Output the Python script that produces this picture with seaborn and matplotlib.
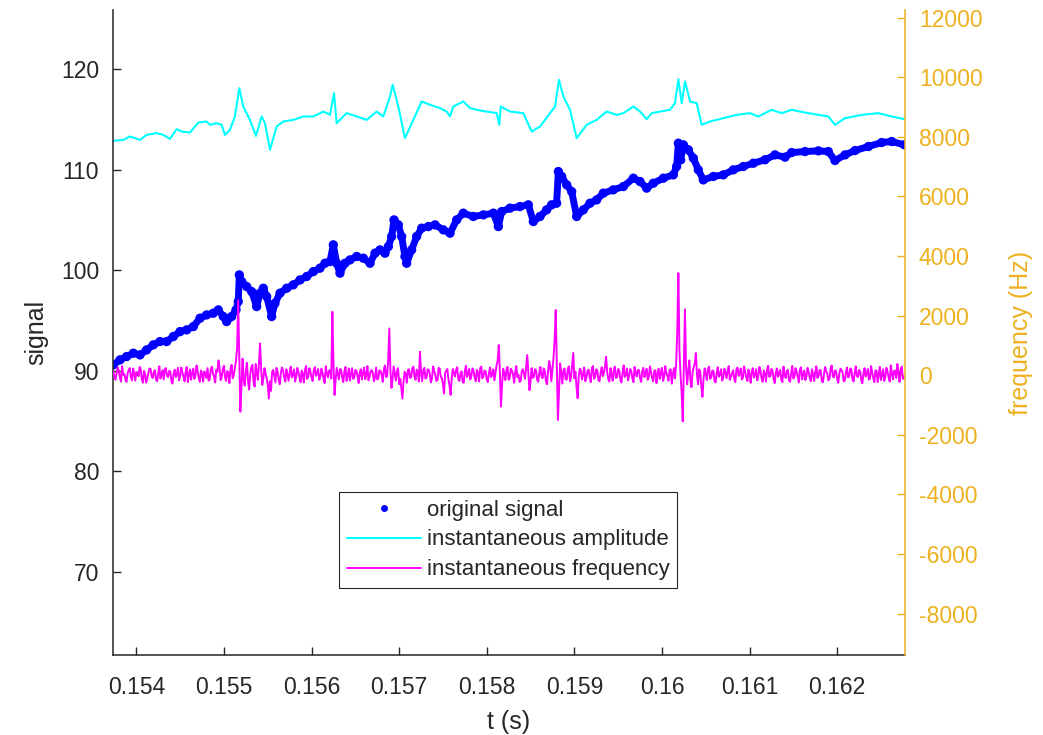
import numpy as np
import pandas as pd
import matplotlib
matplotlib.use("Agg")
import matplotlib.pyplot as plt
import seaborn as sns
from matplotlib.lines import Line2D

# ---------------- data (time in ms) ----------------
sig_t_ms = [153.737, 153.813, 153.889, 153.965, 154.041, 154.117, 154.193, 154.269, 154.345, 154.422,
            154.498, 154.574, 154.650, 154.726, 154.802, 154.878, 154.935, 154.992, 155.030, 155.087,
            155.137, 155.163, 155.175, 155.202, 155.259, 155.316, 155.373, 155.411, 155.449, 155.487,
            155.544, 155.582, 155.639, 155.715, 155.791, 155.868, 155.944, 156.020, 156.096, 156.153,
            156.210, 156.248, 156.286, 156.324, 156.381, 156.438, 156.515, 156.591, 156.667, 156.724,
            156.781, 156.838, 156.876, 156.914, 156.941, 156.990, 157.028, 157.066, 157.085, 157.142,
            157.199, 157.257, 157.333, 157.409, 157.504, 157.580, 157.656, 157.732, 157.846, 157.961,
            158.075, 158.132, 158.170, 158.265, 158.379, 158.474, 158.531, 158.607, 158.683, 158.740,
            158.797, 158.817, 158.855, 158.912, 158.969, 159.026, 159.102, 159.178, 159.254, 159.330,
            159.444, 159.559, 159.673, 159.749, 159.825, 159.901, 160.015, 160.129, 160.167, 160.187,
            160.213, 160.244, 160.301, 160.358, 160.415, 160.472, 160.586, 160.700, 160.814, 160.928,
            161.043, 161.176, 161.290, 161.404, 161.480, 161.633, 161.785, 161.899, 161.975, 162.090,
            162.204, 162.356, 162.508, 162.622, 162.767]
sig_val = [90.60, 91.10, 91.43, 91.76, 91.59, 92.09, 92.59, 92.92, 92.92, 93.42,
           93.91, 94.08, 94.41, 95.24, 95.57, 95.74, 96.07, 95.41, 94.91, 95.41,
           96.07, 96.90, 99.55, 98.89, 98.39, 97.89, 96.40, 97.73, 98.22, 97.40,
           95.41, 96.73, 97.73, 98.22, 98.56, 99.05, 99.39, 99.88, 100.22, 100.71,
           100.88, 102.54, 100.71, 99.72, 100.71, 101.04, 101.38, 101.21, 100.71, 101.71,
           102.04, 101.71, 102.37, 103.37, 105.02, 104.53, 103.37, 101.38, 100.71, 102.04,
           103.37, 104.20, 104.36, 104.53, 104.03, 103.70, 105.02, 105.69, 105.36, 105.52,
           105.69, 104.36, 105.85, 106.19, 106.35, 106.52, 104.86, 105.36, 106.02, 106.52,
           106.68, 109.83, 109.34, 108.51, 107.84, 105.36, 106.02, 106.68, 107.01, 107.68,
           108.01, 108.34, 109.17, 108.84, 108.18, 108.67, 109.17, 109.50, 110.33, 112.65,
           110.99, 112.49, 111.99, 111.16, 110.00, 109.00, 109.34, 109.50, 110.00, 110.33,
           110.66, 111.00, 111.49, 111.26, 111.72, 111.82, 111.89, 111.82, 110.93, 111.49,
           111.92, 112.32, 112.72, 112.82, 112.49]

amp_t_ms = [153.737, 153.851, 153.927, 154.041, 154.117, 154.231, 154.307, 154.384, 154.460, 154.517,
            154.612, 154.707, 154.802, 154.840, 154.916, 154.973, 155.011, 155.068, 155.125, 155.175,
            155.220, 155.296, 155.365, 155.430, 155.468, 155.525, 155.601, 155.677, 155.791, 155.906,
            156.020, 156.134, 156.210, 156.256, 156.286, 156.400, 156.515, 156.629, 156.743, 156.819,
            156.895, 156.926, 156.990, 157.066, 157.161, 157.257, 157.352, 157.466, 157.542, 157.580,
            157.618, 157.732, 157.808, 157.923, 158.113, 158.143, 158.159, 158.265, 158.417, 158.512,
            158.607, 158.722, 158.779, 158.824, 158.874, 158.950, 159.026, 159.140, 159.254, 159.368,
            159.482, 159.559, 159.673, 159.749, 159.825, 159.882, 159.977, 160.091, 160.148, 160.187,
            160.225, 160.263, 160.320, 160.396, 160.453, 160.548, 160.700, 160.852, 161.005, 161.100,
            161.252, 161.366, 161.480, 161.633, 161.785, 161.899, 161.975, 162.090, 162.280, 162.470,
            162.622, 162.767]
amp_val = [112.89, 112.98, 113.32, 112.98, 113.48, 113.65, 113.48, 113.08, 114.05, 113.81,
           113.71, 114.71, 114.81, 114.48, 114.64, 114.48, 113.48, 113.98, 115.31, 118.13,
           116.30, 114.97, 113.38, 115.31, 114.64, 111.99, 114.31, 114.81, 114.97, 115.31,
           115.31, 115.80, 115.47, 117.63, 114.64, 115.64, 115.31, 114.97, 115.80, 115.31,
           117.30, 118.46, 116.30, 113.15, 114.97, 116.80, 116.47, 116.14, 115.80, 115.31,
           116.30, 116.80, 116.14, 115.90, 115.64, 114.48, 116.30, 115.80, 115.64, 113.81,
           114.31, 115.64, 116.30, 118.95, 117.30, 115.97, 113.15, 114.48, 114.97, 115.80,
           115.47, 115.64, 116.30, 115.80, 115.04, 115.64, 115.80, 115.97, 116.63, 119.02,
           116.63, 118.79, 116.80, 116.63, 114.48, 114.81, 115.14, 115.47, 115.64, 115.31,
           115.97, 115.64, 115.97, 115.70, 115.47, 115.31, 114.48, 115.14, 115.47, 115.64,
           115.31, 115.04]

freq_t0_ms = 153.737
freq_dt_ms = 0.0125
freq_hz = [
    120, -40, -150, 90, 260, 150, -80, -210, 310, 20, 40, -130, -220, 70, 180, 240, -60, -170, 230, 60,
    -180, 110, 90, -30, 280, 190, -120, -250, 150, 40, -250, -90, 60, 230, 210, -50, -90, 120, 170, -140,
    -200, 80, 300, -110, 20, 170, -140, 210, 240, -20, -60, 150, 130, -190, -280, 60, 190, -60, 50, 250,
    -170, -30, 260, 100, -40, -200, 110, 280, -230, 30, 200, -150, 80, 220, -120, 10, 330, 140, -90, -220,
    160, 40, -210, 130, 70, -90, 240, -180, -130, 210, 290, 60, -50, -240, 180, 110, 500, 250, -160, -60,
    220, 320, -70, -190, 140, 80, -260, 200, 350, -100, 10, 260, 480, 900, 2520, 600, -1220, -400, 560, -150,
    -350, 150, 420, -200, -480, 40, 260, 350, -200, -380, 380, 100, -150, 400, 1070, 200, -320, -100, 240, 60,
    -100, -300, -780, -200, -520, 120, 180, -30, -240, 250, 120, -160, -300, 80, 260, 160, -60, -210, 200, 30,
    -180, 90, 290, -70, 30, 200, -210, -40, 250, 130, -90, -230, 160, 40, -240, 180, 310, -120, -40, 240,
    120, -80, -190, 170, 270, -20, 60, 210, -150, -60, 220, 90, -110, -260, 300, 70, -70, 150, 180, -110,
    2130, 400, -660, -150, 250, 60, -140, 210, 190, -80, -230, 130, 280, -190, 0, 230, -170, 50, 240, -120,
    -80, 180, 150, -30, -260, 90, 200, -140, 90, 260, -130, 20, 310, -170, -50, 140, 170, 60, -200, -60,
    260, -140, -100, 170, 140, 30, -220, 200, 330, -60, -30, 500, 1570, 200, -420, -100, 300, 60, -180, 150,
    240, -300, -120, -450, -780, -200, 120, 50, -250, 180, 200, -90, -60, 230, 290, -40, -150, 190, 110, -210,
    790, 100, -200, 160, 250, -110, -70, 200, 180, 40, -240, -100, 300, 130, 30, -190, -160, 250, 220, -50,
    -90, -300, -610, 80, 150, 210, -130, -350, -660, -100, 210, 70, -40, 190, 270, -120, -190, 60, 130, -230,
    -250, 140, 320, -60, 60, 210, -140, -20, 230, 150, -80, -200, 180, 90, -210, 240, 290, -100, -30, 160,
    120, -140, -230, 70, 260, -60, 40, 200, -170, 100, 350, 500, 1015, 100, -1050, -300, 220, 60, -160, 190,
    280, -150, -90, 220, 150, 30, -250, 110, 310, -70, 20, -220, -180, 140, 200, 60, -120, 300, 680, 100,
    -500, -200, 240, -80, -60, 200, 170, -150, -220, 90, 280, -30, -100, 230, 140, -190, -300, 150, 480, 300,
    -200, 200, 600, 1200, 2190, 300, -1500, -500, 400, 100, -280, 150, 230, -120, -150, 220, 300, -200, -60, 350,
    750, -100, 120, -400, -770, -50, 220, 160, -140, 30, 260, -200, -90, 140, 190, -60, -230, 240, 310, -120,
    -50, 200, 160, -170, -200, 90, 270, -30, 80, 300, 620, 100, -130, -210, 240, 50, -180, 160, 290, -90,
    -60, 210, 150, -150, -240, 80, 330, -60, 20, 230, -170, -20, 210, 140, -110, -230, 280, 60, -40, 180,
    170, -90, -220, 130, 250, -60, 60, 220, -150, -40, 300, 100, -80, -200, 140, 170, -260, 30, 220, -120,
    90, 250, -190, -50, 310, 80, -30, -180, 180, 200, -280, 40, 240, -100, 420, 1500, 3430, 800, 0, -600,
    -1550, 400, 2210, 300, -300, 150, 500, -200, -400, 100, 280, 400, 750, 0, -300, 200, 120, -400, -720, -100,
    230, 80, -160, 200, 290, -120, -70, 160, 150, -190, -240, 90, 270, -50, 30, 200, -180, -70, 220, 120,
    -100, 150, 310, -160, -40, 60, 170, -120, -230, 200, 260, -20, 80, 230, -140, -70, 300, 110, -60, -190,
    190, 40, -250, 130, 240, -80, 10, 200, -170, -40, 280, 150, -110, -220, 160, 60, -210, 180, 320, -50,
    -30, 210, 140, -120, -260, 90, 230, -50, 70, 180, -150, -230, 290, 30, -90, 150, 180, -160, -220, 70,
    310, -110, -50, 240, 120, -60, -240, 200, 270, -140, 40, 160, -160, -30, 250, 110, -80, -200, 200, 50,
    -190, 120, 300, -90, -20, 180, 160, -200, -230, 40, 280, 130, 60, -170, -120, 220, 330, -30, -70, 160,
    150, -120, -250, 60, 220, 180, 90, -200, -180, 100, 260, -70, -40, 230, 190, -140, -210, 80, 300, -30,
    -60, 180, 130, -150, -270, 60, 240, -40, 50, 210, -150, -100, 310, 90, -100, -230, 170, 140, -230, 30,
    280, -160, 20, 200, -190, -40, 250, 120, -70, -210, 330, 60, -140, 150, 160, -90, 380, 100, -220, 200,
    290, -120, -60]

x_ticks = [0.154, 0.155, 0.156, 0.157, 0.158, 0.159, 0.160, 0.161, 0.162]
x_tick_labels = ["0.154", "0.155", "0.156", "0.157", "0.158", "0.159", "0.16", "0.161", "0.162"]
left_ticks = [70, 80, 90, 100, 110, 120]
right_ticks = [-8000, -6000, -4000, -2000, 0, 2000, 4000, 6000, 8000, 10000, 12000]

legend_labels = ["original signal", "instantaneous amplitude", "instantaneous frequency"]

# ---------------- styling ----------------
sns.set_theme(style="white")
plt.rcParams['font.family'] = ['Liberation Sans', 'DejaVu Sans']

DARK = (0.15, 0.15, 0.15)
ORANGE = (0.929, 0.694, 0.125)
W, H = 1043, 735

df_sig = pd.DataFrame({"t": np.array(sig_t_ms) / 1000.0, "v": sig_val})
df_amp = pd.DataFrame({"t": np.array(amp_t_ms) / 1000.0, "v": amp_val})
freq_t = (freq_t0_ms + freq_dt_ms * np.arange(len(freq_hz))) / 1000.0
df_freq = pd.DataFrame({"t": freq_t, "f": freq_hz})

fig = plt.figure(figsize=(W / 100, H / 100), dpi=100)
fig.patch.set_facecolor("white")
ax = fig.add_axes([113 / W, 1 - 655 / H, 792 / W, 645 / H])
ax.set_facecolor("white")
ax2 = ax.twinx()

sns.lineplot(data=df_sig, x="t", y="v", ax=ax, color="blue", linewidth=5.0,
             estimator=None, sort=False, solid_capstyle="round", solid_joinstyle="round")
sns.scatterplot(data=df_sig, x="t", y="v", ax=ax, color="blue", s=45, linewidth=0, edgecolor="none")
sns.lineplot(data=df_amp, x="t", y="v", ax=ax, color="cyan", linewidth=1.5,
             estimator=None, sort=False)
sns.lineplot(data=df_freq, x="t", y="f", ax=ax2, color="magenta", linewidth=1.4,
             estimator=None, sort=False)

ax.set_xlim(0.153733, 0.162774)
ax.set_ylim(61.74, 125.90)
ax2.set_ylim(-9386, 12258)

ax.set_xticks(x_ticks)
ax.set_xticklabels(x_tick_labels)
ax.set_yticks(left_ticks)
ax2.set_yticks(right_ticks)
ax2.set_yticklabels([str(v) for v in right_ticks])

for s in ["top", "right"]:
    ax.spines[s].set_visible(False)
for s in ["top", "left", "bottom"]:
    ax2.spines[s].set_visible(False)
for s in ["left", "bottom"]:
    ax.spines[s].set_color(DARK)
    ax.spines[s].set_linewidth(1.1)
ax2.spines["right"].set_color(ORANGE)
ax2.spines["right"].set_linewidth(1.1)

ax.tick_params(axis="x", direction="in", length=5.5, width=1.0, colors=DARK,
               labelsize=16.5, pad=15, top=False, bottom=True)
ax.tick_params(axis="y", direction="in", length=5.5, width=1.0, colors=DARK,
               labelsize=16.5, pad=10, left=True, right=False)
ax2.tick_params(axis="y", direction="in", length=5.5, width=1.0, colors=ORANGE,
                labelsize=16.5, pad=10, right=True, left=False)

ax.set_xlabel("t (s)", fontsize=18, color=DARK, labelpad=8)
ax.set_ylabel("signal", fontsize=18, color=DARK, labelpad=9)
ax2.set_ylabel("frequency (Hz)", fontsize=18, color=ORANGE, labelpad=19)
ax.grid(False)
ax2.grid(False)

handles = [
    Line2D([], [], color="blue", marker="o", markersize=4, linestyle="none"),
    Line2D([], [], color="cyan", linewidth=1.5),
    Line2D([], [], color="magenta", linewidth=1.4),
]
leg = ax2.legend(handles, legend_labels, loc="upper left",
                 bbox_to_anchor=(339 / W, 1 - 492 / H), bbox_transform=fig.transFigure,
                 fontsize=16, frameon=True, fancybox=False, framealpha=1,
                 borderpad=0.34, handlelength=3.35, handletextpad=0.25,
                 labelspacing=0.4, borderaxespad=0)
leg.get_frame().set_edgecolor(DARK)
leg.get_frame().set_linewidth(0.8)
for txt in leg.get_texts():
    txt.set_color(DARK)

fig.savefig("out.png", dpi=100, facecolor="white")
